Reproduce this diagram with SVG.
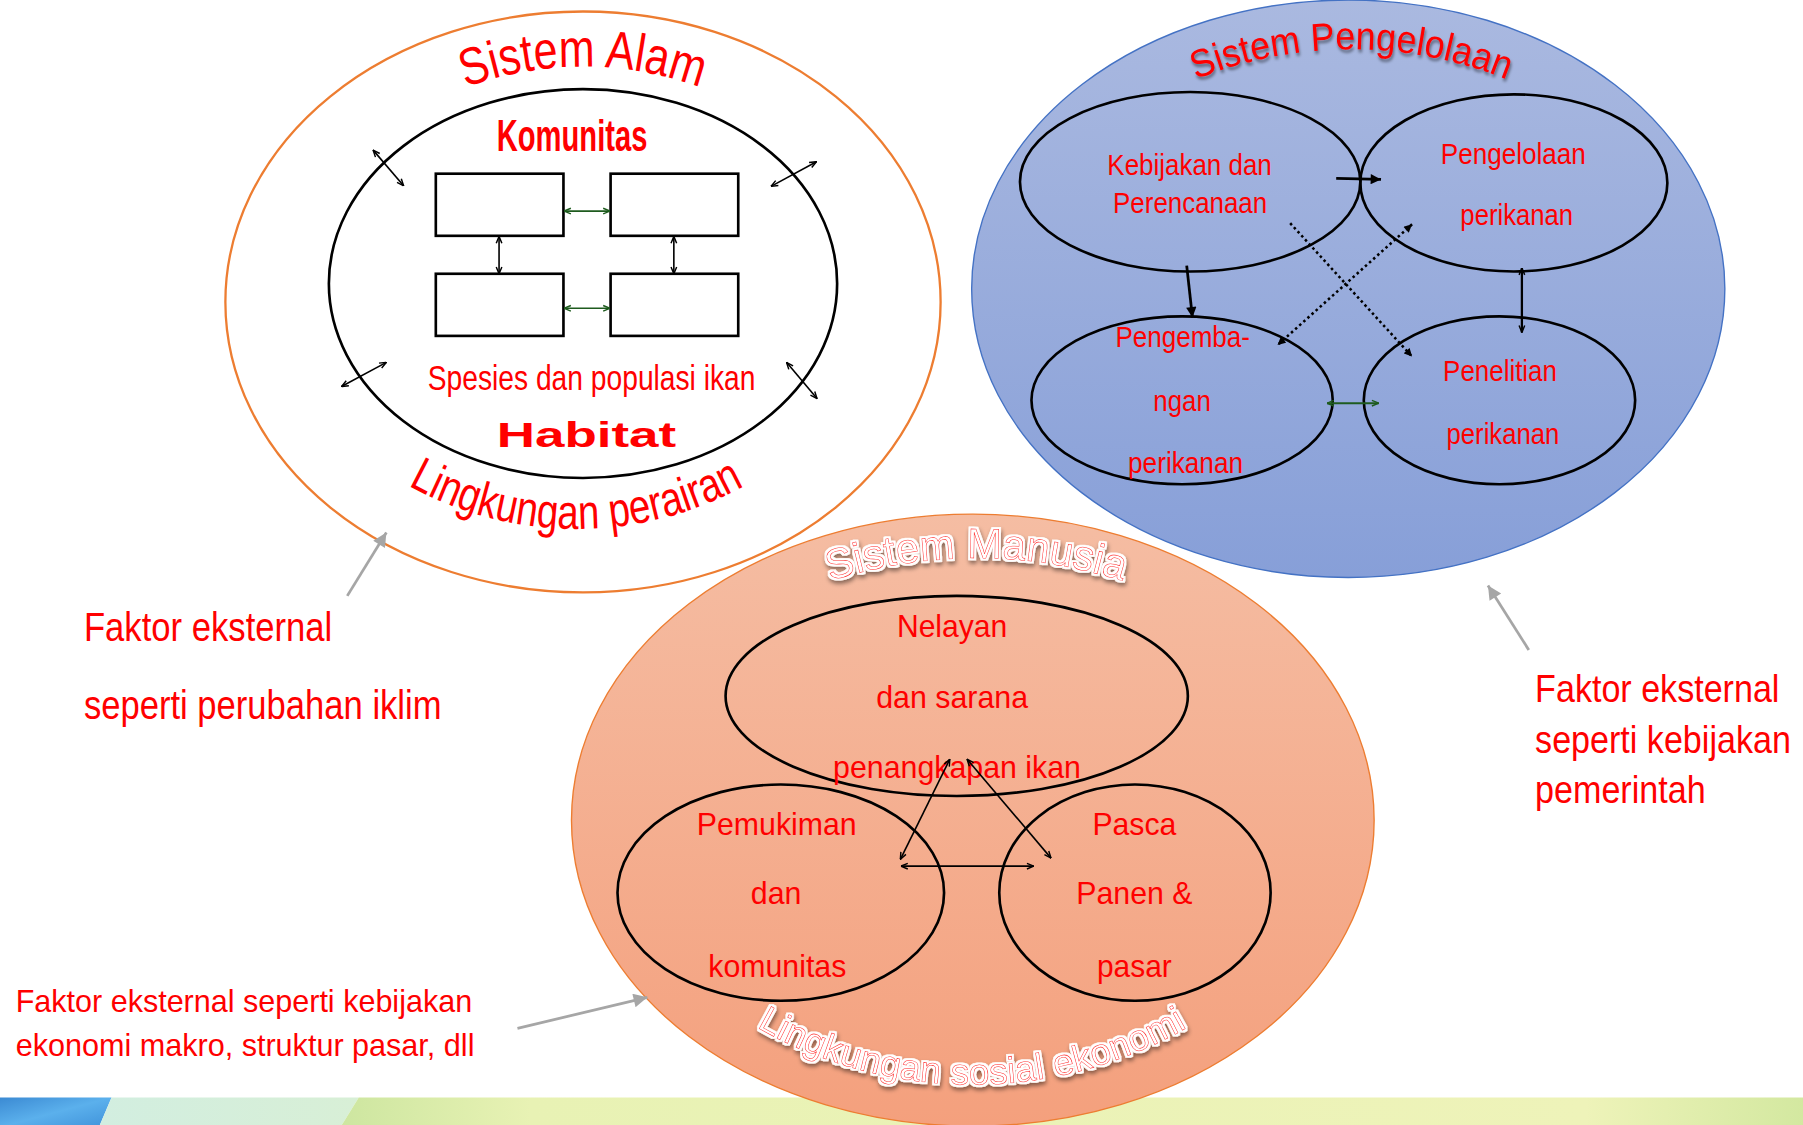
<svg xmlns="http://www.w3.org/2000/svg" width="1803" height="1125" viewBox="0 0 1803 1125">
<style>
.t{font-family:"Liberation Sans",Arial,sans-serif;fill:#FF0000;}
.b{font-weight:bold;}
.ol{fill:none;stroke:#000;stroke-width:2.3;}
.box{fill:#fff;stroke:#000;stroke-width:2.3;}
.oa{fill:none;stroke:#000;stroke-width:1.4;marker-start:url(#mOpen);marker-end:url(#mOpen);}
.ga{fill:none;stroke:#1E5B1E;stroke-width:1.4;marker-start:url(#mGreen);marker-end:url(#mGreen);}
.fa{fill:none;stroke:#000;stroke-width:2.4;marker-end:url(#mFill);}
.dot{fill:none;stroke:#000;stroke-width:2.2;stroke-dasharray:2.2 2.6;}
.gray{fill:none;stroke:#A6A6A6;stroke-width:2.4;marker-end:url(#mGray);}
.wa{font-family:"Liberation Sans",Arial,sans-serif;fill:#fff;stroke:#FF0000;stroke-width:0.45;}
</style>
<defs>
<linearGradient id="gBlue" x1="0" y1="0" x2="0" y2="1"><stop offset="0" stop-color="#AAB9E0"/><stop offset="1" stop-color="#879FD8"/></linearGradient>
<linearGradient id="gSalmon" x1="0" y1="0" x2="0" y2="1"><stop offset="0" stop-color="#F5BDA3"/><stop offset="1" stop-color="#F4A07D"/></linearGradient>
<linearGradient id="gBandBlue" x1="0" y1="0" x2="1" y2="1"><stop offset="0" stop-color="#3B8AD3"/><stop offset="0.5" stop-color="#5BB0EC"/><stop offset="1" stop-color="#3F92DA"/></linearGradient>
<linearGradient id="gMint" x1="0" y1="0" x2="1" y2="0"><stop offset="0" stop-color="#D2EEE0"/><stop offset="1" stop-color="#D8EFD6"/></linearGradient>
<linearGradient id="gBand" x1="0" y1="0" x2="1" y2="0"><stop offset="0" stop-color="#CDE6A0"/><stop offset="0.13" stop-color="#E8F2B4"/><stop offset="0.85" stop-color="#EEF3B9"/><stop offset="1" stop-color="#D3E8A0"/></linearGradient>
<marker id="mOpen" viewBox="0 0 10 10" refX="9.5" refY="5" markerWidth="7" markerHeight="7" markerUnits="userSpaceOnUse" orient="auto-start-reverse"><path d="M1,1.5 L9.5,5 L1,8.5" fill="none" stroke="#000" stroke-width="1.8"/></marker>
<marker id="mGreen" viewBox="0 0 10 10" refX="9.5" refY="5" markerWidth="7" markerHeight="7" markerUnits="userSpaceOnUse" orient="auto-start-reverse"><path d="M1,1.5 L9.5,5 L1,8.5" fill="none" stroke="#1E5B1E" stroke-width="1.8"/></marker>
<marker id="mFill" viewBox="0 0 10 10" refX="10" refY="5" markerWidth="10" markerHeight="9" markerUnits="userSpaceOnUse" orient="auto"><path d="M0,0 L10,5 L0,10 Z" fill="#000"/></marker>
<marker id="mDot" viewBox="0 0 10 10" refX="10" refY="5" markerWidth="8" markerHeight="7" markerUnits="userSpaceOnUse" orient="auto-start-reverse"><path d="M0,0 L10,5 L0,10 Z" fill="#000"/></marker>
<marker id="mGray" viewBox="0 0 10 10" refX="10" refY="5" markerWidth="14" markerHeight="12" markerUnits="userSpaceOnUse" orient="auto"><path d="M0,0 L10,5 L0,10 Z" fill="#A6A6A6"/></marker>
<filter id="fRed" x="-10%" y="-40%" width="120%" height="190%">
<feGaussianBlur in="SourceAlpha" stdDeviation="1.6" result="b"/>
<feOffset in="b" dx="1" dy="3" result="o"/>
<feFlood flood-color="#000" flood-opacity="0.45"/>
<feComposite in2="o" operator="in" result="s"/>
<feMerge><feMergeNode in="s"/><feMergeNode in="SourceGraphic"/></feMerge>
</filter>
<filter id="fWord" x="-10%" y="-40%" width="120%" height="190%">
<feMorphology in="SourceAlpha" operator="dilate" radius="1.4" result="d"/>
<feFlood flood-color="#fff"/>
<feComposite in2="d" operator="in" result="w"/>
<feGaussianBlur in="d" stdDeviation="1.8" result="b"/>
<feOffset in="b" dx="1" dy="3" result="o"/>
<feFlood flood-color="#000" flood-opacity="0.45"/>
<feComposite in2="o" operator="in" result="s"/>
<feMerge><feMergeNode in="s"/><feMergeNode in="w"/><feMergeNode in="SourceGraphic"/></feMerge>
</filter>
<path id="pAlamTop" d="M405,76 A298,298 0 0,1 609,76"/>
<path id="pAlamBot" d="M355,422 A302.6,302.6 0 0,0 648,422"/>
<path id="pPengTop" d="M1040,69 A363,363 0 0,1 1310,69"/>
<path id="pManTop" d="M722,505 A420.7,420.7 0 0,1 976,505"/>
<path id="pManBot" d="M658,893 A376.6,376.6 0 0,0 1033,893"/>
</defs>
<rect x="0" y="0" width="1803" height="1125" fill="#fff"/>
<g transform="scale(1.1499,1.1503)">
<g id="band">
<polygon points="0,954 97,954 86,980 0,980" fill="url(#gBandBlue)"/>
<polygon points="97,954 312,954 296,980 86,980" fill="url(#gMint)"/>
<polygon points="312,954 1570,954 1570,980 296,980" fill="url(#gBand)"/>
</g>

<g id="sistem-manusia">
<ellipse cx="846" cy="713" rx="349" ry="266" fill="url(#gSalmon)" stroke="#ED7D31" stroke-width="1.2"/>
<text class="wa" font-size="37" filter="url(#fWord)"><textPath href="#pManTop" textLength="258" lengthAdjust="spacingAndGlyphs">Sistem Manusia</textPath></text>
<text class="wa" font-size="32" filter="url(#fWord)"><textPath href="#pManBot" textLength="392" lengthAdjust="spacingAndGlyphs">Lingkungan sosial ekonomi</textPath></text>
</g>
<g id="nelayan">
<ellipse class="ol" cx="832" cy="605" rx="201" ry="87"/>
<text class="t" font-size="28"><tspan x="780" y="554" textLength="96" lengthAdjust="spacingAndGlyphs">Nelayan</tspan><tspan x="762" y="615.6" textLength="132" lengthAdjust="spacingAndGlyphs">dan sarana</tspan><tspan x="724.5" y="676" textLength="215.5" lengthAdjust="spacingAndGlyphs">penangkapan ikan</tspan></text>
</g>
<g id="pemukiman">
<ellipse class="ol" cx="679" cy="776" rx="142" ry="94"/>
<text class="t" font-size="28"><tspan x="606" y="726" textLength="139" lengthAdjust="spacingAndGlyphs">Pemukiman</tspan><tspan x="653" y="786" textLength="44" lengthAdjust="spacingAndGlyphs">dan</tspan><tspan x="616" y="849" textLength="120" lengthAdjust="spacingAndGlyphs">komunitas</tspan></text>
</g>
<g id="pasca">
<ellipse class="ol" cx="987" cy="776" rx="118" ry="94"/>
<text class="t" font-size="28"><tspan x="950" y="726" textLength="73" lengthAdjust="spacingAndGlyphs">Pasca</tspan><tspan x="936" y="786" textLength="101" lengthAdjust="spacingAndGlyphs">Panen &amp;</tspan><tspan x="954" y="849" textLength="65" lengthAdjust="spacingAndGlyphs">pasar</tspan></text>
</g>

<g id="sistem-alam">
<ellipse cx="507" cy="262.5" rx="311" ry="252.5" fill="#fff" stroke="#ED7D31" stroke-width="2"/>
<text class="t" font-size="46"><textPath href="#pAlamTop" textLength="208" lengthAdjust="spacingAndGlyphs">Sistem Alam</textPath></text>
<text class="t" font-size="42"><textPath href="#pAlamBot" textLength="305" lengthAdjust="spacingAndGlyphs">Lingkungan perairan</textPath></text>
</g>
<g id="habitat">
<ellipse class="ol" cx="507" cy="246.5" rx="221" ry="169"/>
<text class="t b" x="432" y="131" font-size="38" textLength="131" lengthAdjust="spacingAndGlyphs">Komunitas</text>
<text class="t" x="372" y="339" font-size="30" textLength="285" lengthAdjust="spacingAndGlyphs">Spesies dan populasi ikan</text>
<text class="t b" x="432" y="389" font-size="31" textLength="156" lengthAdjust="spacingAndGlyphs">Habitat</text>
</g>
<g id="box-1"><rect class="box" x="379" y="151" width="111" height="54"/></g>
<g id="box-2"><rect class="box" x="531" y="151" width="111" height="54"/></g>
<g id="box-3"><rect class="box" x="379" y="238" width="111" height="54"/></g>
<g id="box-4"><rect class="box" x="531" y="238" width="111" height="54"/></g>

<g id="sistem-pengelolaan">
<ellipse cx="1172.5" cy="251" rx="327.5" ry="251" fill="url(#gBlue)" stroke="#4472C4" stroke-width="1.2"/>
<text class="t" font-size="34" filter="url(#fRed)"><textPath href="#pPengTop" textLength="277" lengthAdjust="spacingAndGlyphs">Sistem Pengelolaan</textPath></text>
</g>
<g id="kebijakan">
<ellipse class="ol" cx="1035" cy="158" rx="148" ry="78"/>
<text class="t" font-size="25"><tspan x="963" y="152" textLength="143" lengthAdjust="spacingAndGlyphs">Kebijakan dan</tspan><tspan x="968" y="185" textLength="134" lengthAdjust="spacingAndGlyphs">Perencanaan</tspan></text>
</g>
<g id="pengelolaan">
<ellipse class="ol" cx="1316.5" cy="159" rx="133.5" ry="77"/>
<text class="t" font-size="26"><tspan x="1253" y="143" textLength="126" lengthAdjust="spacingAndGlyphs">Pengelolaan</tspan><tspan x="1270" y="196" textLength="98" lengthAdjust="spacingAndGlyphs">perikanan</tspan></text>
</g>
<g id="pengembangan">
<ellipse class="ol" cx="1028" cy="348" rx="131" ry="73"/>
<text class="t" font-size="26"><tspan x="970" y="302" textLength="117" lengthAdjust="spacingAndGlyphs">Pengemba-</tspan><tspan x="1003" y="357" textLength="50" lengthAdjust="spacingAndGlyphs">ngan</tspan><tspan x="981" y="411.5" textLength="100" lengthAdjust="spacingAndGlyphs">perikanan</tspan></text>
</g>
<g id="penelitian">
<ellipse class="ol" cx="1304" cy="348" rx="118" ry="73"/>
<text class="t" font-size="26"><tspan x="1255" y="331" textLength="99" lengthAdjust="spacingAndGlyphs">Penelitian</tspan><tspan x="1258" y="386" textLength="98" lengthAdjust="spacingAndGlyphs">perikanan</tspan></text>
</g>

<g id="faktor-iklim">
<text class="t" font-size="35"><tspan x="73" y="557.5" textLength="216" lengthAdjust="spacingAndGlyphs">Faktor eksternal</tspan><tspan x="73" y="625" textLength="311" lengthAdjust="spacingAndGlyphs">seperti perubahan iklim</tspan></text>
</g>
<g id="faktor-ekonomi">
<text class="t" font-size="28"><tspan x="13.6" y="880" textLength="397" lengthAdjust="spacingAndGlyphs">Faktor eksternal seperti kebijakan</tspan><tspan x="13.6" y="918" textLength="399" lengthAdjust="spacingAndGlyphs">ekonomi makro, struktur pasar, dll</tspan></text>
</g>
<g id="faktor-pemerintah">
<text class="t" font-size="34" transform="translate(1335,0) scale(0.872,1)"><tspan x="0" y="610">Faktor eksternal</tspan><tspan x="0" y="655">seperti kebijakan</tspan><tspan x="0" y="698">pemerintah</tspan></text>
</g>

<g id="connectors">
<line class="ga" x1="490.5" y1="183.5" x2="530.5" y2="183.5"/>
<line class="ga" x1="490.5" y1="268" x2="530.5" y2="268"/>
<line class="oa" x1="434" y1="205.5" x2="434" y2="238"/>
<line class="oa" x1="586" y1="205.5" x2="586" y2="238"/>
<line class="oa" x1="324.5" y1="130.5" x2="351" y2="161.5"/>
<line class="oa" x1="710" y1="140.6" x2="670.5" y2="162"/>
<line class="oa" x1="336" y1="315" x2="297" y2="336"/>
<line class="oa" x1="684" y1="315" x2="710.5" y2="346.5"/>
<line class="fa" x1="1162" y1="155" x2="1201" y2="156"/>
<line class="fa" x1="1032" y1="231" x2="1037" y2="276"/>
<line class="oa" x1="1323.5" y1="233" x2="1323.5" y2="289" style="stroke-width:2"/>
<line class="ga" x1="1154" y1="350.5" x2="1199" y2="350.5" style="stroke-width:1.8"/>
<line class="dot" x1="1122" y1="194" x2="1228" y2="310" marker-end="url(#mDot)"/>
<line class="dot" x1="1228" y1="195" x2="1111" y2="300" marker-start="url(#mDot)" marker-end="url(#mDot)"/>
<line class="oa" x1="783" y1="747" x2="826" y2="660"/>
<line class="oa" x1="841" y1="660" x2="914" y2="746"/>
<line class="oa" x1="783.5" y1="753" x2="899" y2="753"/>
<line class="gray" x1="302" y1="518" x2="336" y2="463"/>
<line class="gray" x1="450" y1="894" x2="563" y2="867"/>
<line class="gray" x1="1329.5" y1="565" x2="1294" y2="509"/>
</g>
</g>
</svg>
